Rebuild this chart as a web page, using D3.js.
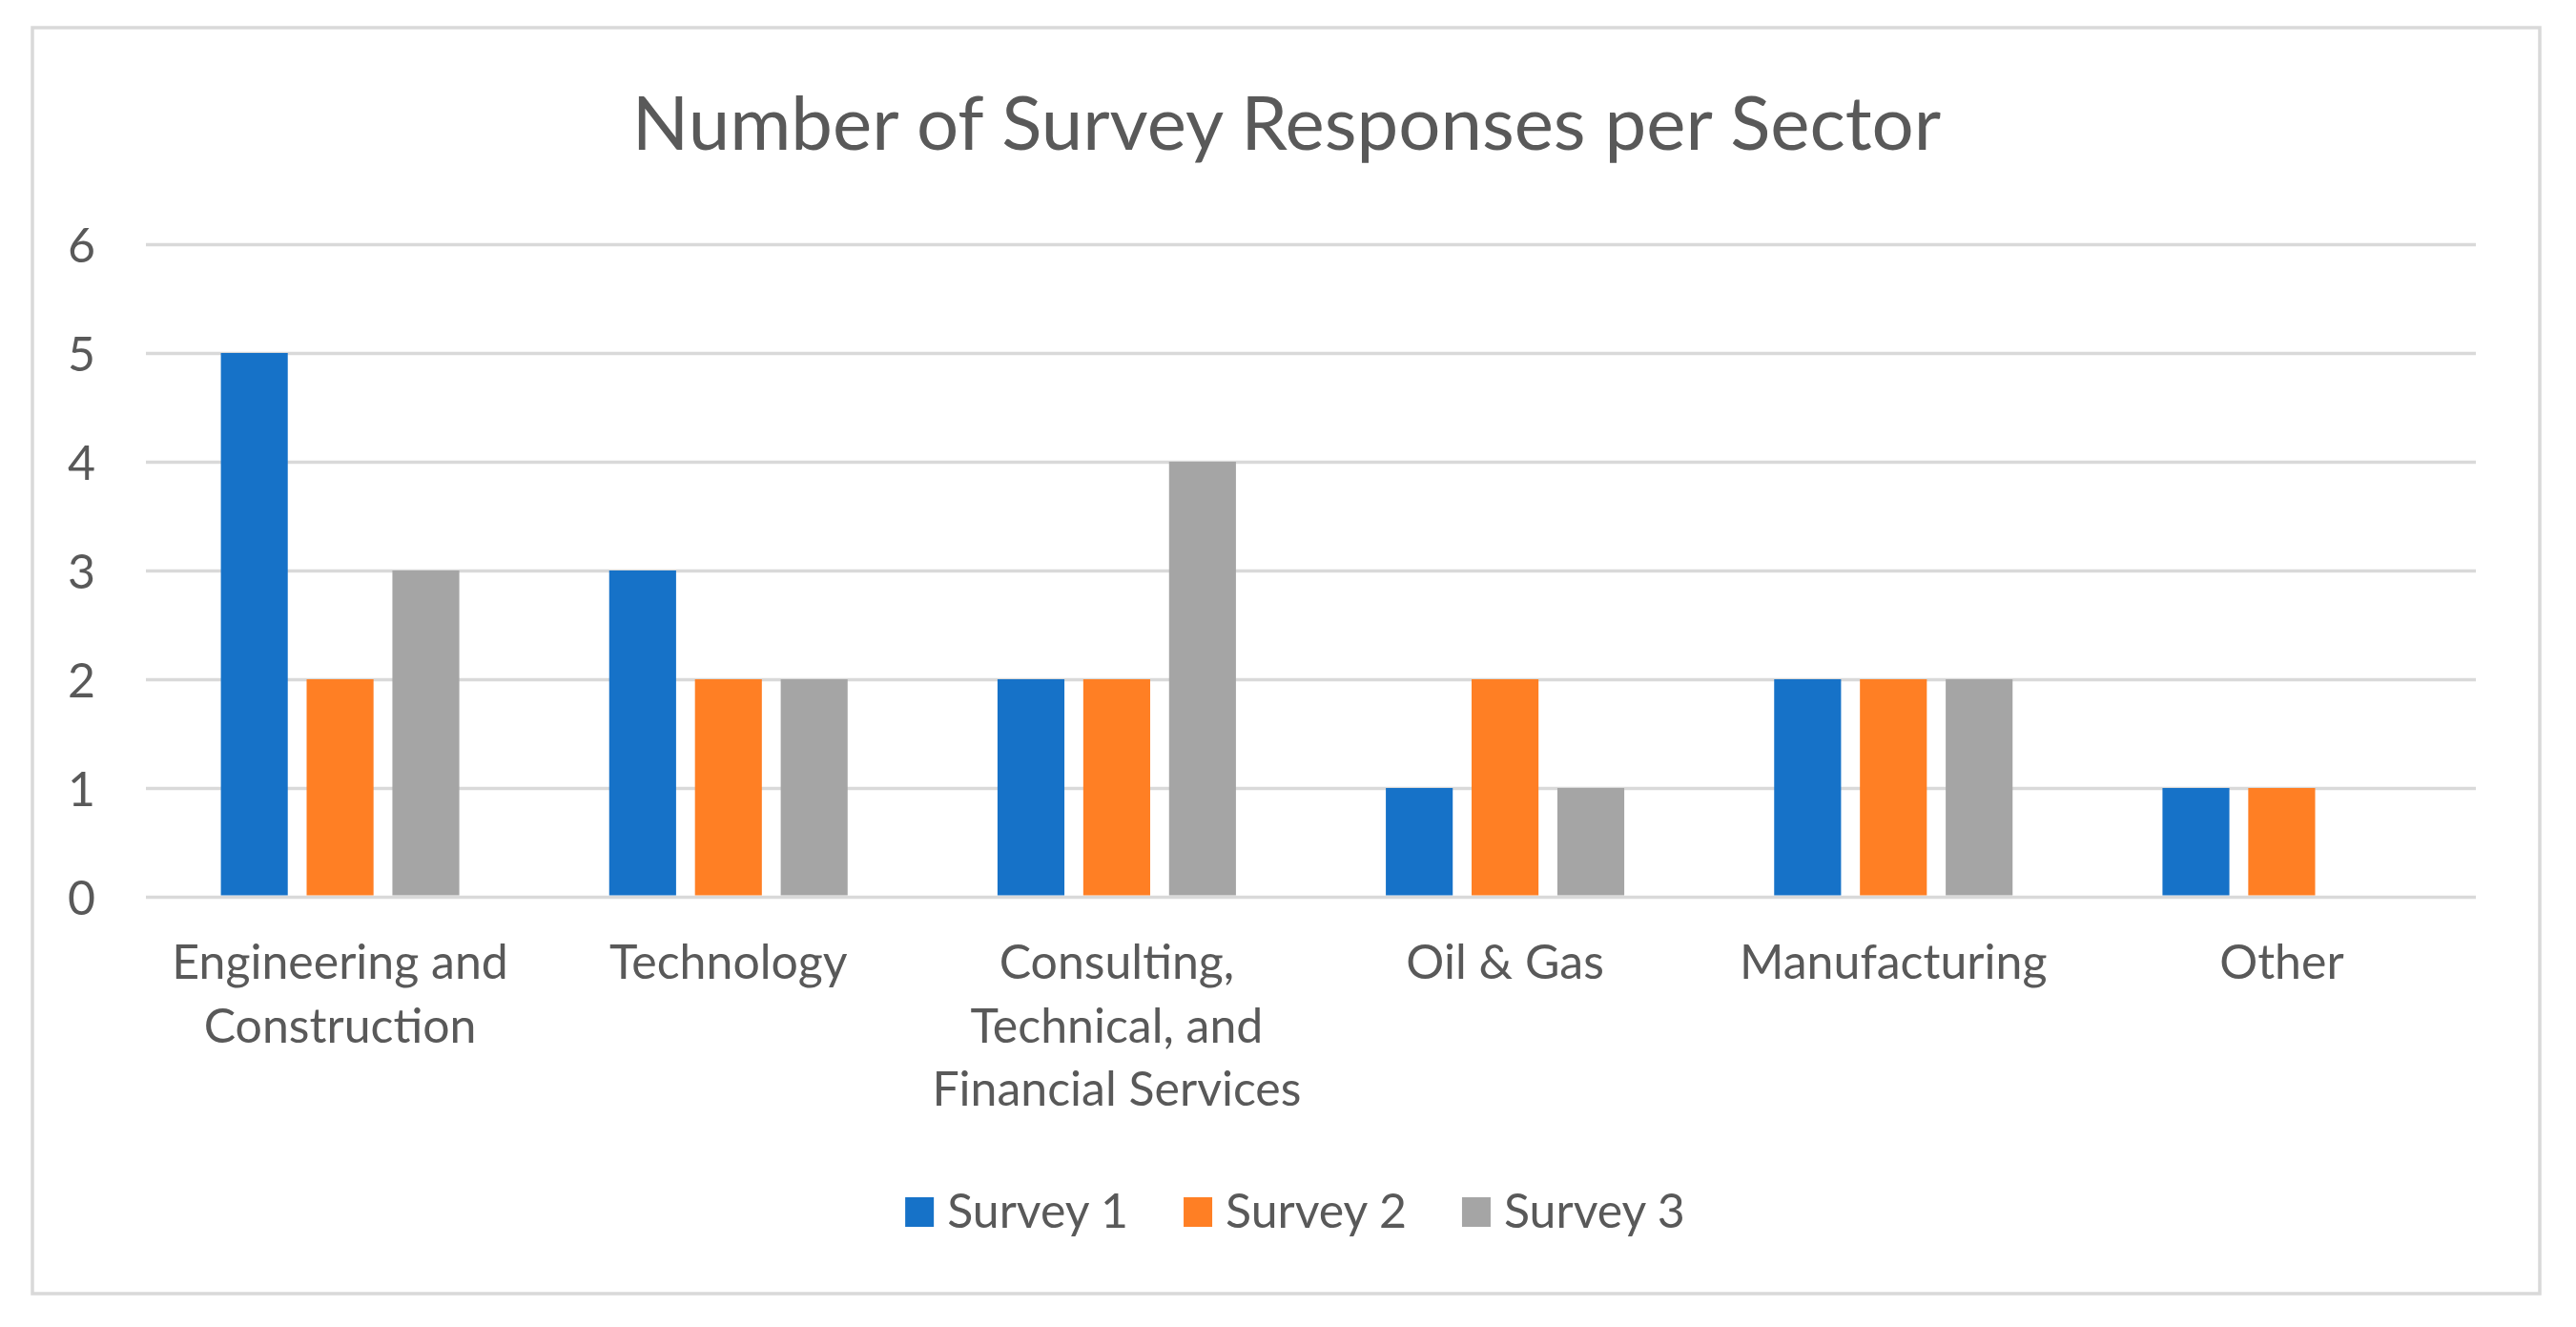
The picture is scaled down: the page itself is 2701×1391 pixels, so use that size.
<!DOCTYPE html>
<html>
<head>
<meta charset="utf-8">
<script src="https://cdn.jsdelivr.net/npm/d3@7"></script>
<style>
  body { margin: 0; background: #fff; }
  text { font-family: Lato, "Open Sans", sans-serif; fill: #595959; }
</style>
</head>
<body>
<svg id="chart"></svg>
<script>
// data
const sectors = ['Engineering and Construction', 'Technology', 'Consulting, Technical, and Financial Services', 'Oil & Gas', 'Manufacturing', 'Other'];
const surveyNames = ['Survey 1', 'Survey 2', 'Survey 3'];
const survey1 = [5, 3, 2, 1, 2, 1];
const survey2 = [2, 2, 2, 2, 2, 1];
const survey3 = [3, 2, 4, 1, 2, 0];
const yTicks = [0, 1, 2, 3, 4, 5, 6];
const colours = ['#1672C8', '#FF7F24', '#A5A5A5'];

const W = 2701, H = 1391;
const margin = {top: 256, right: W - 2596, bottom: H - 940, left: 153};
const width = W - margin.left - margin.right;
const height = H - margin.top - margin.bottom;

const svg = d3.select('#chart').attr('width', W).attr('height', H);

// outer frame
svg.append('rect')
    .attr('x', 34).attr('y', 29)
    .attr('width', 2663 - 34).attr('height', 1356 - 29)
    .attr('fill', '#fff')
    .attr('stroke', '#d9d9d9')
    .attr('stroke-width', 3.5);

svg.append('text')
    .attr('x', 1349).attr('y', 157)
    .attr('text-anchor', 'middle')
    .style('font-size', '78px')
    .text('Number of Survey Responses per Sector');

const g = svg.append('g').attr('transform', `translate(${margin.left},${margin.top})`);

const x0 = d3.scaleBand().domain(sectors).range([0, width]);
const x1 = d3.scaleBand().domain(surveyNames)
    .range([x0.bandwidth() * 0.193, x0.bandwidth() * 0.807])
    .paddingInner(0.22);
const y = d3.scaleLinear().domain([0, 6]).range([height, 0]);

// gridlines + y labels
const yAxis = g.append('g')
    .call(d3.axisLeft(y).tickValues(yTicks).tickFormat(d3.format('d'))
        .tickSizeInner(-width).tickSizeOuter(0).tickPadding(53));
yAxis.select('.domain').remove();
yAxis.selectAll('line').attr('stroke', '#d9d9d9').attr('stroke-width', 3.5);
yAxis.selectAll('text').style('font-size', '50px').attr('fill', '#595959').attr('dy', '0.36em');

const series = [survey1, survey2, survey3];
const rows = sectors.map((s, i) => ({sector: s, values: surveyNames.map((n, j) => ({name: n, value: series[j][i], c: colours[j]}))}));

g.append('g').selectAll('g')
    .data(rows)
    .join('g')
    .attr('transform', d => `translate(${x0(d.sector)},0)`)
    .selectAll('rect')
    .data(d => d.values.filter(v => v.value > 0))
    .join('rect')
    .attr('x', d => x1(d.name))
    .attr('width', x1.bandwidth())
    .attr('y', d => y(d.value))
    .attr('height', d => y(0) - y(d.value) - 1.5)
    .attr('fill', d => d.c);

// x labels, wrapped to the band width
const xAxis = g.append('g')
    .attr('transform', `translate(0,${height})`)
    .call(d3.axisBottom(x0).tickSize(0));
xAxis.select('.domain').remove();
xAxis.selectAll('text')
    .style('font-size', '50px')
    .attr('fill', '#595959')
    .each(function(d) {
        const t = d3.select(this);
        const words = d.split(' ');
        t.text(null).attr('y', 86).attr('dy', null);
        let line = [];
        let ts = t.append('tspan').attr('x', 0).attr('y', 86);
        let n = 0;
        words.forEach(w => {
            line.push(w);
            ts.text(line.join(' '));
            if (ts.node().getComputedTextLength() > x0.bandwidth() - 5 && line.length > 1) {
                line.pop();
                ts.text(line.join(' '));
                line = [w];
                n++;
                ts = t.append('tspan').attr('x', 0).attr('y', 86 + n * 66.5).text(w);
            }
        });
    });

// legend
const legend = svg.append('g');
const items = legend.selectAll('g').data(surveyNames).join('g');
items.append('rect')
    .attr('width', 30).attr('height', 31)
    .attr('y', 1255)
    .attr('fill', (d, i) => colours[i]);
items.append('text')
    .attr('x', 44).attr('y', 1287)
    .style('font-size', '50px')
    .text(d => d);
let pos = 0;
items.each(function() {
    const it = d3.select(this);
    it.attr('transform', `translate(${pos},0)`);
    pos += 44 + it.select('text').node().getComputedTextLength() + 58;
});
const total = pos - 58;
legend.attr('transform', `translate(${1358 - total / 2},0)`);
</script>
</body>
</html>
